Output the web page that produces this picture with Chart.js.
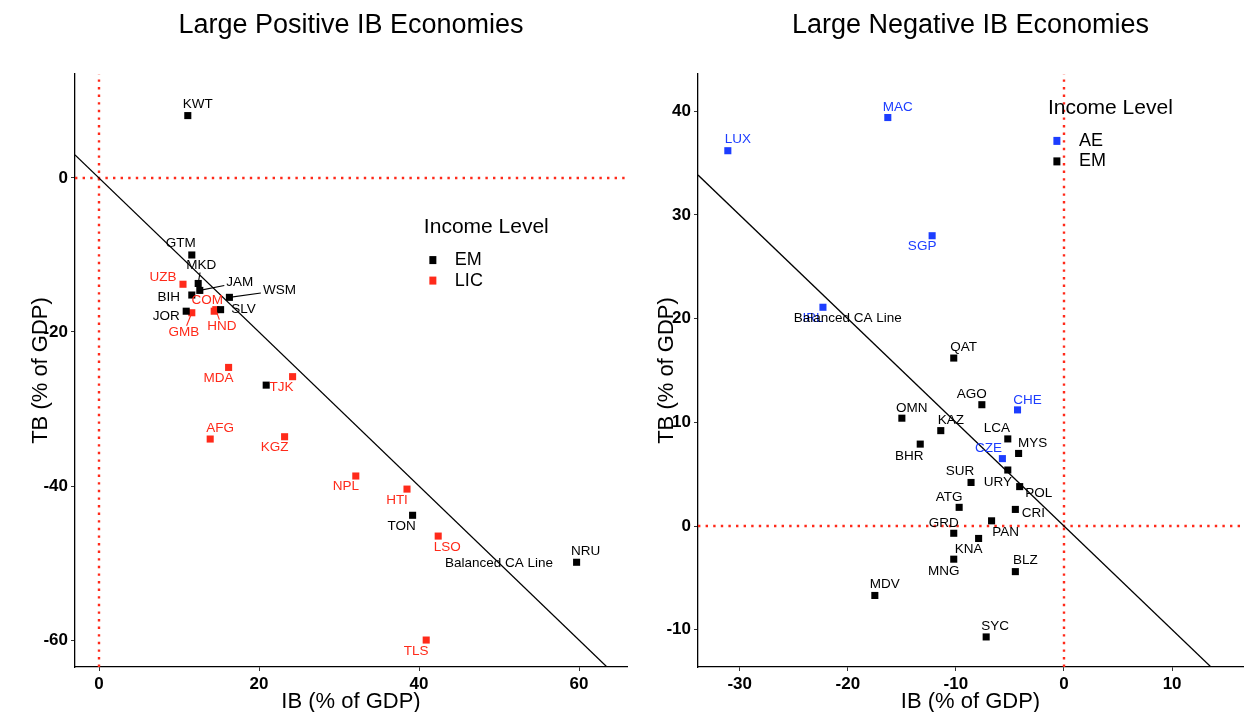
<!DOCTYPE html>
<html>
<head>
<meta charset="utf-8">
<script src="https://cdn.jsdelivr.net/npm/chart.js@4.4.0/dist/chart.umd.min.js"></script>
<style>
  html, body { margin: 0; padding: 0; background: #fff; }
  #wrap { position: relative; width: 1248px; height: 712px; overflow: hidden; background: #fff; }
  #left { position: absolute; left: 0; top: 0; width: 640px; height: 712px; }
  #right { position: absolute; left: 640px; top: 0; width: 608px; height: 712px; }
</style>
</head>
<body>
<div id="wrap">
  <canvas id="left" width="640" height="712"></canvas>
  <canvas id="right" width="608" height="712"></canvas>
</div>
<script>
// ---- Large positive IB economies (IB and TB in % of GDP) ----
const posCodes = ['KWT','GTM','UZB','MKD','JAM','BIH','WSM','JOR','GMB','COM','HND','SLV','MDA','TJK','','AFG','KGZ','NPL','HTI','TON','LSO','NRU','TLS'];
const posIB = [11.1, 11.6, 10.5, 12.4, 12.6, 11.6, 16.3, 10.9, 11.6, 14.4, 14.6, 15.2, 16.2, 24.2, 20.9, 13.9, 23.2, 32.1, 38.5, 39.2, 42.4, 59.7, 40.9];
const posTB = [8.1, -10.0, -13.8, -13.7, -14.6, -15.2, -15.5, -17.3, -17.5, -17.3, -17.1, -17.1, -24.6, -25.8, -26.9, -33.9, -33.6, -38.7, -40.4, -43.8, -46.5, -49.9, -60.0];
const posGroup = ['EM','EM','LIC','EM','EM','EM','EM','EM','LIC','LIC','LIC','EM','LIC','LIC','EM','LIC','LIC','LIC','LIC','EM','LIC','EM','LIC'];
const posXTicks = [0, 20, 40, 60];
const posYTicks = [-60, -40, -20, 0];

// ---- Large negative IB economies ----
const negCodes = ['LUX','MAC','SGP','IRL','QAT','AGO','CHE','OMN','KAZ','LCA','BHR','MYS','CZE','URY','POL','SUR','ATG','CRI','PAN','GRD','KNA','MNG','BLZ','MDV','SYC'];
const negIB = [-31.1, -16.3, -12.2, -22.3, -10.2, -7.6, -4.3, -15.0, -11.4, -5.2, -13.3, -4.2, -5.7, -5.2, -4.1, -8.6, -9.7, -4.5, -6.7, -10.2, -7.9, -10.2, -4.5, -17.5, -7.2];
const negTB = [36.2, 39.4, 28.0, 21.1, 16.2, 11.7, 11.2, 10.4, 9.2, 8.4, 7.9, 7.0, 6.5, 5.4, 3.8, 4.2, 1.8, 1.6, 0.5, -0.7, -1.2, -3.2, -4.4, -6.7, -10.7];
const negGroup = ['AE','AE','AE','AE','EM','EM','AE','EM','EM','EM','EM','EM','AE','EM','EM','EM','EM','EM','EM','EM','EM','EM','EM','EM','EM'];
const negXTicks = [-30, -20, -10, 0, 10];
const negYTicks = [-10, 0, 10, 20, 30, 40];

// where the "Balanced CA Line" caption sits, in data units (on TB = -IB)
const posCaLabel = [50, -50];
const negCaLabel = [-20, 20];

// label placement relative to each marker, in pixels
const labelOffset = {
  KWT:[10,-11], GTM:[-11,-12], UZB:[-20,-7], MKD:[3,-18], JAM:[40,-8], BIH:[-23,2],
  WSM:[50,-7], JOR:[-20,5], GMB:[-8,20], COM:[-7,-11], HND:[6,17], SLV:[23,0],
  MDA:[-10,11], TJK:[-11,11], AFG:[10,-11], KGZ:[-10,11], NPL:[-10,10], HTI:[-10,11],
  TON:[-11,11], LSO:[9,11], NRU:[9,-11], TLS:[-10,11],
  LUX:[10,-11], MAC:[10,-10], SGP:[-10,11], IRL:[-10,11], QAT:[10,-11], AGO:[-10,-10],
  CHE:[10,-10], OMN:[10,-10], KAZ:[10,-10], LCA:[-11,-11], BHR:[-11,12], MYS:[14,-10],
  CZE:[-14,-10], URY:[-10,12], POL:[19,7], SUR:[-11,-11], ATG:[-10,-10], CRI:[18,4],
  PAN:[14,11], GRD:[-10,-10], KNA:[-10,11], MNG:[-10,12], BLZ:[10,-11], MDV:[10,-11],
  SYC:[9,-11]
};
const leaderCodes = ['JAM','WSM','GMB','HND','MKD'];

const FONT = "'Liberation Sans', Arial, Helvetica, sans-serif";
const RED = '#ff2a1a';
const BLUE = '#1c3dff';
const BLACK = '#000000';

function panelTextPlugin(p) {
  return {
    id: 'panelText',
    afterDatasetsDraw(chart) {
      const { ctx, chartArea: a, scales: { x, y } } = chart;
      ctx.save();
      ctx.beginPath();
      ctx.rect(a.left, a.top, a.right - a.left, a.bottom - a.top);
      ctx.clip();

      // country labels
      ctx.font = `13.5px ${FONT}`;
      ctx.textAlign = 'center';
      ctx.textBaseline = 'middle';
      p.codes.forEach((code, i) => {
        if (!code) return;
        const px = x.getPixelForValue(p.ib[i]);
        const py = y.getPixelForValue(p.tb[i]);
        const off = labelOffset[code] || [10, -11];
        const cx = px + off[0], cy = py + off[1];
        const color = p.colors[p.group[i]];
        if (leaderCodes.includes(code)) {
          const hw = ctx.measureText(code).width / 2 + 2, hh = 7;
          const vx = px - cx, vy = py - cy;
          const s = Math.min(vx !== 0 ? hw / Math.abs(vx) : Infinity, vy !== 0 ? hh / Math.abs(vy) : Infinity);
          if (s < 1) {
            ctx.strokeStyle = color;
            ctx.lineWidth = 1.1;
            ctx.beginPath();
            ctx.moveTo(cx + vx * s, cy + vy * s);
            ctx.lineTo(px, py);
            ctx.stroke();
          }
        }
        ctx.fillStyle = color;
        ctx.fillText(code, cx, cy);
      });

      // caption of the balanced current account line
      ctx.fillStyle = BLACK;
      ctx.fillText('Balanced CA Line', x.getPixelForValue(p.caLabel[0]), y.getPixelForValue(p.caLabel[1]));

      // legend
      const tx = a.left + p.legendAt[0] * (a.right - a.left);
      const ty = a.top + p.legendAt[1] * (a.bottom - a.top);
      ctx.textAlign = 'left';
      ctx.font = `21px ${FONT}`;
      ctx.fillStyle = BLACK;
      ctx.fillText('Income Level', tx, ty);
      ctx.font = `18px ${FONT}`;
      p.legendOrder.forEach((g, k) => {
        const iy = ty + 32.5 + k * 20.5;
        ctx.fillStyle = p.colors[g];
        ctx.fillRect(tx + 9 - 3.5, iy - 4, 7, 8);
        ctx.fillStyle = BLACK;
        ctx.fillText(g, tx + 31, iy);
      });
      ctx.restore();
    }
  };
}

function makePanel(canvasId, p) {
  const datasets = p.legendOrder.map(g => ({
    label: g,
    data: p.codes.map((c, i) => ({ x: p.ib[i], y: p.tb[i], g: p.group[i] })).filter(d => d.g === g),
    pointStyle: 'rect',
    pointRadius: 5,
    pointHoverRadius: 5,
    backgroundColor: p.colors[g],
    borderWidth: 0,
    showLine: false
  }));
  // balanced current account: TB = -IB
  datasets.push({
    type: 'line',
    data: [{ x: p.xRange[0], y: -p.xRange[0] }, { x: p.xRange[1], y: -p.xRange[1] }],
    borderColor: BLACK, borderWidth: 1.3, pointRadius: 0, clip: 0, fill: false
  });
  // zero reference lines
  datasets.push({
    type: 'line',
    data: [{ x: 0, y: p.yRange[0] }, { x: 0, y: p.yRange[1] }],
    borderColor: RED, borderWidth: 2.4, borderDash: [2.4, 5.2], pointRadius: 0, clip: 0, fill: false
  });
  datasets.push({
    type: 'line',
    data: [{ x: p.xRange[0], y: 0 }, { x: p.xRange[1], y: 0 }],
    borderColor: RED, borderWidth: 2.4, borderDash: [2.4, 5.2], pointRadius: 0, clip: 0, fill: false
  });

  const tickFont = { family: FONT, size: 17, weight: 'bold' };
  const gridOpts = { drawOnChartArea: false, drawTicks: true, tickLength: 4, color: '#333', lineWidth: 1 };
  const borderOpts = { display: true, color: BLACK, width: 1.3 };

  return new Chart(document.getElementById(canvasId), {
    type: 'scatter',
    data: { datasets },
    options: {
      responsive: false,
      animation: false,
      events: [],
      layout: { padding: { left: 0, right: p.padRight, top: 0, bottom: 0 } },
      plugins: {
        legend: { display: false },
        tooltip: { enabled: false },
        title: {
          display: true,
          text: p.title,
          fullSize: false,
          color: BLACK,
          font: { family: FONT, size: 27, weight: 'normal', lineHeight: 1.2 },
          padding: { top: 9.8, bottom: 31.8 }
        }
      },
      scales: {
        x: {
          type: 'linear',
          min: p.xRange[0], max: p.xRange[1],
          afterBuildTicks: s => { s.ticks = p.xTicks.map(v => ({ value: v })); },
          afterFit: s => { s.height = 45; },
          ticks: { font: tickFont, color: BLACK, padding: 3 },
          grid: gridOpts,
          border: borderOpts,
          title: { display: true, text: 'IB (% of GDP)', color: BLACK,
                   font: { family: FONT, size: 22, lineHeight: 1.2 }, padding: { top: 0, bottom: -3.5 } }
        },
        y: {
          type: 'linear',
          min: p.yRange[0], max: p.yRange[1],
          afterBuildTicks: s => { s.ticks = p.yTicks.map(v => ({ value: v })); },
          afterFit: s => { s.width = p.yAxisWidth; },
          ticks: { font: tickFont, color: BLACK, padding: 3 },
          grid: gridOpts,
          border: borderOpts,
          title: { display: true, text: 'TB (% of GDP)', color: BLACK,
                   font: { family: FONT, size: 22, lineHeight: 1.2 }, padding: { top: p.yTitlePad, bottom: 0 } }
        }
      }
    },
    plugins: [panelTextPlugin(p)]
  });
}

makePanel('left', {
  title: 'Large Positive IB Economies',
  codes: posCodes, ib: posIB, tb: posTB, group: posGroup,
  colors: { EM: BLACK, LIC: RED },
  legendOrder: ['EM', 'LIC'],
  legendAt: [0.632, 0.259],
  caLabel: posCaLabel,
  xRange: [-3.0, 66.0], yRange: [-63.5, 13.5],
  xTicks: posXTicks, yTicks: posYTicks,
  yAxisWidth: 75, yTitlePad: 28, padRight: 13
});

makePanel('right', {
  title: 'Large Negative IB Economies',
  codes: negCodes, ib: negIB, tb: negTB, group: negGroup,
  colors: { AE: BLUE, EM: BLACK },
  legendOrder: ['AE', 'EM'],
  legendAt: [0.642, 0.058],
  caLabel: negCaLabel,
  xRange: [-33.86, 16.56], yRange: [-13.6, 43.6],
  xTicks: negXTicks, yTicks: negYTicks,
  yAxisWidth: 58, yTitlePad: 13.5, padRight: 2
});
</script>
</body>
</html>
